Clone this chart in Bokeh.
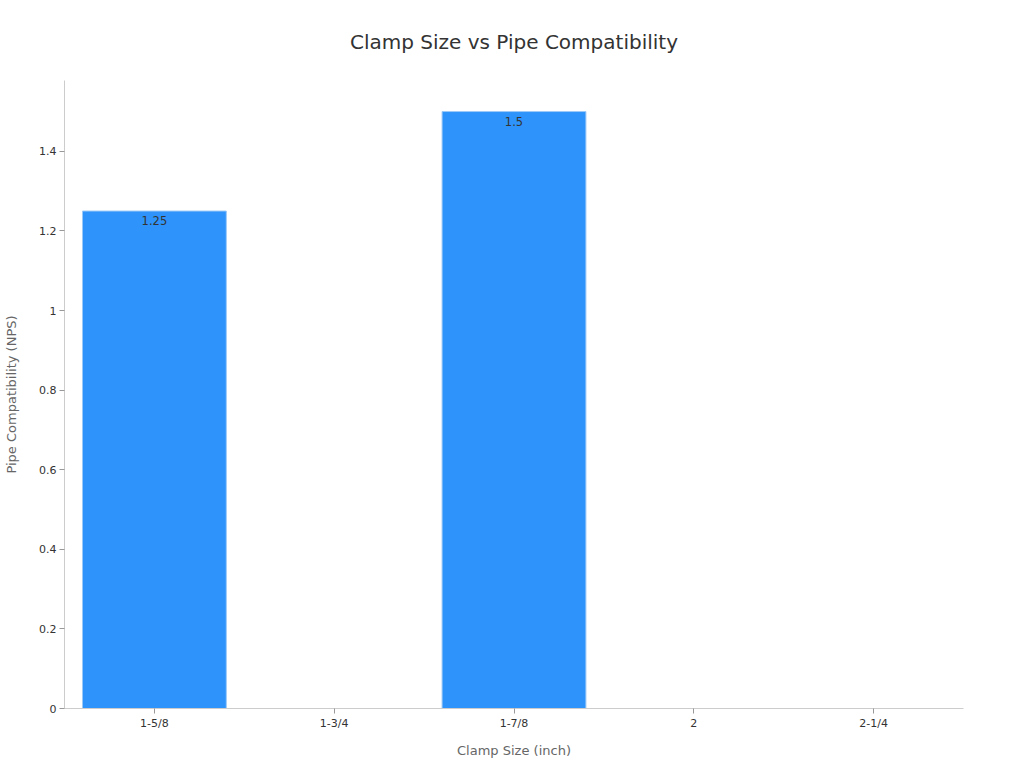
from bokeh.plotting import figure
from bokeh.models import ColumnDataSource, Range1d, FixedTicker, CustomJSTickFormatter, Title
from bokeh.core.properties import value
from bokeh.embed import file_html
from bokeh.resources import INLINE

title_text = "Clamp Size vs Pipe Compatibility"
categories = ["1-5/8", "1-3/4", "1-7/8", "2", "2-1/4"]
values = [1.25, None, 1.5, None, None]
y_ticks = [0, 0.2, 0.4, 0.6, 0.8, 1.0, 1.2, 1.4]

bar_x = [c for c, v in zip(categories, values) if v is not None]
bar_top = [v for v in values if v is not None]
bar_lbl = [("%g" % v) for v in bar_top]
src = ColumnDataSource(dict(x=bar_x, top=bar_top, lbl=bar_lbl))

FONT = "DejaVu Sans"
Y_MAX = 1.578

p = figure(x_range=categories, y_range=Range1d(0, Y_MAX), width=1008, height=760,
           output_backend="svg", toolbar_location=None,
           min_border_left=64, min_border_right=45, min_border_top=80, min_border_bottom=52)
p.title = Title(text=title_text, align="center",
                text_font=FONT, text_font_size="20px", text_font_style="normal",
                text_color="#333333", offset=0, standoff=54)
p.outline_line_color = None
p.xgrid.grid_line_color = None
p.ygrid.grid_line_color = None

p.vbar(x="x", top="top", width=0.8, source=src, fill_color="#2E93FA",
       line_color="#9cc9f7", line_width=1)
p.text(x="x", y="top", text="lbl", source=src, text_align="center", text_baseline="top",
       y_offset=5, text_font=value(FONT), text_font_size="11.5px", text_color="#333333")

for ax in (p.xaxis[0], p.yaxis[0]):
    ax.axis_line_color = "#cccccc"
    ax.major_tick_line_color = "#999999"
    ax.major_tick_out = 5
    ax.major_tick_in = 0
    ax.minor_tick_line_color = None
    ax.major_label_text_font = FONT
    ax.major_label_text_font_size = "11px"
    ax.major_label_text_color = "#333333"
    ax.axis_label_text_font = FONT
    ax.axis_label_text_font_size = "13px"
    ax.axis_label_text_font_style = "normal"
    ax.axis_label_text_color = "#666666"

p.xaxis.axis_label = "Clamp Size (inch)"
p.yaxis.axis_label = "Pipe Compatibility (NPS)"
p.yaxis.ticker = FixedTicker(ticks=y_ticks)
p.yaxis.formatter = CustomJSTickFormatter(code="return String(Math.round(tick*10)/10);")
p.xaxis.major_label_standoff = 3
p.xaxis.axis_label_standoff = 10
p.yaxis.major_label_standoff = 3
p.yaxis.axis_label_standoff = 17

open("out.html", "w").write(file_html(p, INLINE))
